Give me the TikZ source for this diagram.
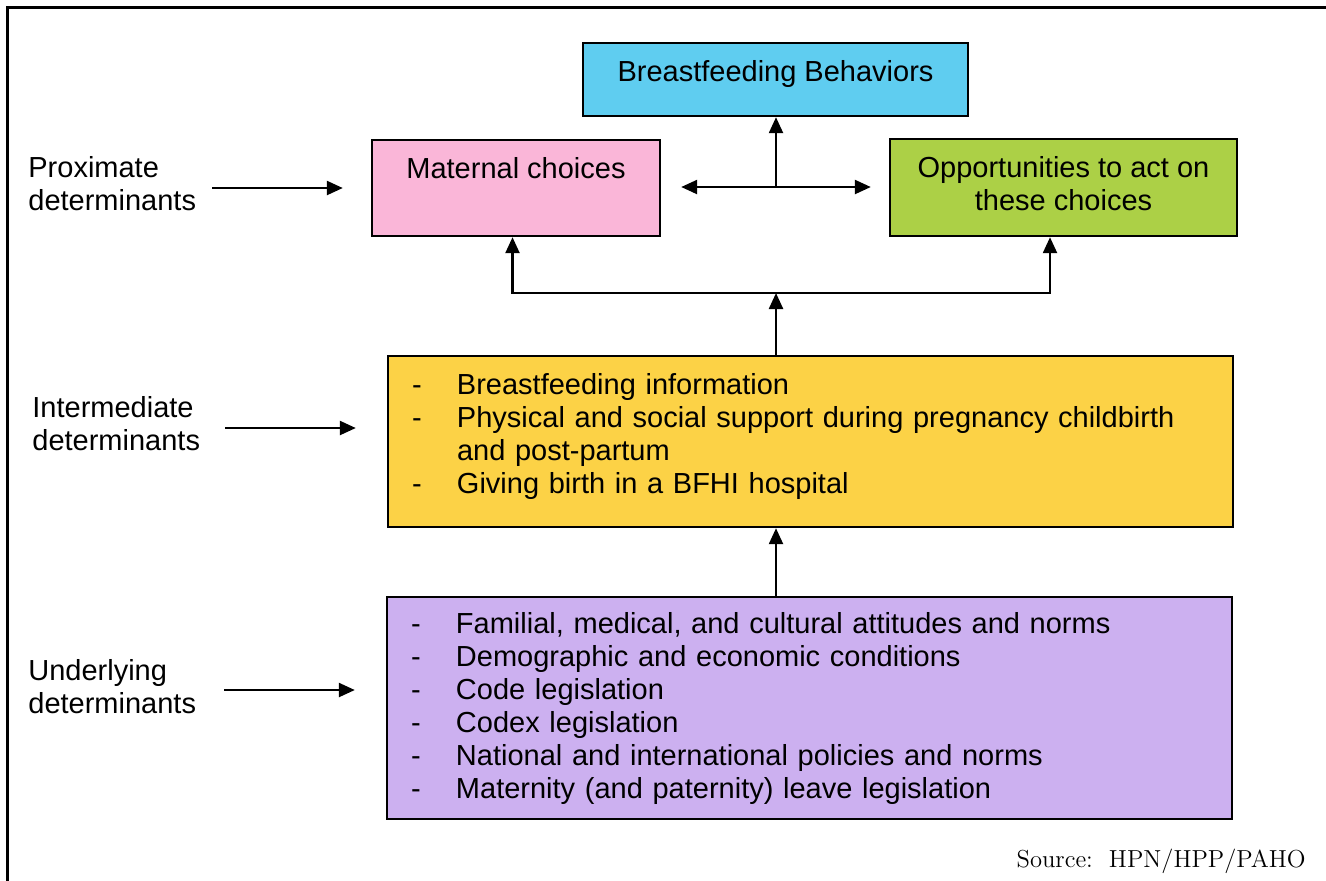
\documentclass[tikz,border=0pt]{standalone}
\usepackage{fontspec}
\setsansfont{Liberation Sans}
\usepackage{tikz}
\usetikzlibrary{arrows.meta,positioning}

\definecolor{behavblue}{RGB}{95,205,240}
\definecolor{matpink}{RGB}{250,182,216}
\definecolor{oppgreen}{RGB}{172,208,70}
\definecolor{interyellow}{RGB}{252,210,70}
\definecolor{underlilac}{RGB}{204,176,240}

\newcommand{\itm}{\makebox[22.5pt][l]{-}}
\newcommand{\cont}{\hspace*{22.5pt}}
\newcommand{\lift}[1]{\rule[-#1]{0pt}{0pt}}

\begin{document}
\begin{tikzpicture}[x=0.5pt,y=-0.5pt]
\tikzset{
	box/.style = {draw, line width=1.2pt, inner sep=0pt, align=center, font=\sffamily\fontsize{14.5}{16.5}\selectfont},
	listbox/.style = {box, align=left, inner xsep=12pt, text width=398.5pt},
	side/.style = {inner sep=0pt, align=left, font=\sffamily\fontsize{14.5}{16.5}\selectfont},
	arr/.style = {line width=1.2pt, -{Triangle[length=8pt,width=7pt]}},
	arrboth/.style = {line width=1.2pt, {Triangle[length=8pt,width=7pt]}-{Triangle[length=8pt,width=7pt]}}
}
\useasboundingbox (0,0) rectangle (1326,880);
\draw [line width=1.5pt] (7,7) rectangle (1345,900);

% boxes
\node (behav) [box, fill=behavblue, minimum width=192.5pt, minimum height=36.5pt] at (775.5,79.5) {Breastfeeding Behaviors\lift{9pt}};
\node (mat) [box, fill=matpink, minimum width=144pt, minimum height=48pt] at (516,188) {Maternal choices\\\phantom{M}\lift{4pt}};
\node (opp) [box, fill=oppgreen, minimum width=173.5pt, minimum height=48.5pt] at (1063.5,187.5) {Opportunities to act on\\these choices\lift{4pt}};
\node (inter) [listbox, fill=interyellow, minimum height=85.5pt] at (810.5,441.5) {%
	\itm Breastfeeding information\\
	\itm Physical and social support during pregnancy childbirth\\
	\cont and post-partum\\
	\itm Giving birth in a BFHI hospital\lift{8.5pt}};
\node (under) [listbox, fill=underlilac, minimum height=111pt] at (809.5,708) {%
	\itm Familial, medical, and cultural attitudes and norms\\
	\itm Demographic and economic conditions\\
	\itm Code legislation\\
	\itm Codex legislation\\
	\itm National and international policies and norms\\
	\itm Maternity (and paternity) leave legislation};

% levels
\node (prox) [side, anchor=west] at (28,184) {Proximate\\determinants};
\node (inlab) [side, anchor=west] at (32,424) {Intermediate\\determinants};
\node (unlab) [side, anchor=west] at (28,687) {Underlying\\determinants};

\draw [arr] ([xshift=8pt,yshift=-2pt]prox.east) -- ([xshift=-14pt,yshift=-2pt]prox.east -| mat.west);
\draw [arr] ([xshift=12.5pt,yshift=-2pt]inlab.east) -- ([xshift=-15.5pt,yshift=-2pt]inlab.east -| inter.west);
\draw [arr] ([xshift=14pt,yshift=-1.5pt]unlab.east) -- ([xshift=-15.5pt,yshift=-1.5pt]unlab.east -| under.west);

% connectors
\coordinate (hub) at (776,187);
\coordinate (fork) at (776,293);
\draw [arr] (hub) -- (hub |- behav.south);
\draw [arrboth] ([xshift=10pt]hub -| mat.east) -- ([xshift=-9pt]hub -| opp.west);
\draw [arr] (inter.north -| fork) -- (fork);
\draw [arr] (fork) -| ([xshift=-1.75pt]mat.south);
\draw [arr] (fork) -| ([xshift=-6.75pt]opp.south);
\draw [arr] (under.north -| fork) -- (inter.south -| fork);

\node (src) [anchor=base east, inner sep=0pt, font=\fontsize{12.3}{14}\selectfont] at (1306,867) {Source:\ \ HPN/HPP/PAHO};
\end{tikzpicture}
\end{document}
